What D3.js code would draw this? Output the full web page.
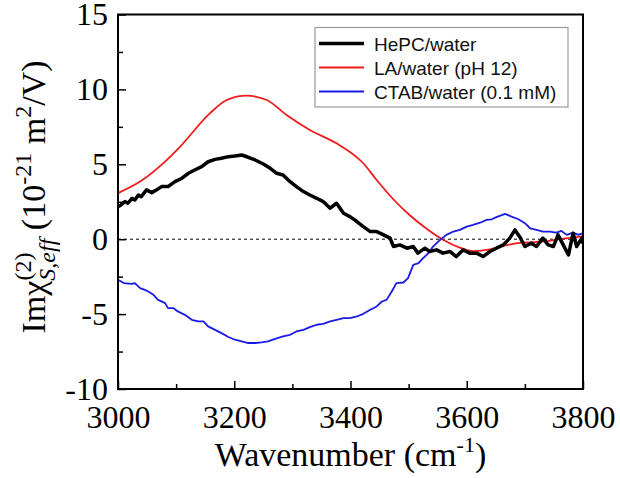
<!DOCTYPE html>
<html>
<head>
<meta charset="utf-8">
<script src="https://cdn.jsdelivr.net/npm/d3@7"></script>
<style>
  body { margin: 0; background: #fff; }
  svg { display: block; }
  .tick text { font-family: "Liberation Serif", "Times New Roman", serif; }
</style>
</head>
<body>
<svg class="myChart" width="620" height="478"></svg>
<script>
// HePC/water (noisy, thick black)
const hepcWn = [3000,3005,3012,3017,3024,3029,3035,3040,3049,3058,3066,3075,3086,3098,3110,3121,3132,3144,3155,3167,3178,3190,3201,3213,3224,3236,3250,3262,3273,3284,3296,3307,3319,3330,3342,3353,3365,3376,3388,3399,3411,3422,3434,3445,3457,3468,3474,3485,3497,3508,3516,3528,3536,3548,3559,3571,3582,3594,3605,3617,3628,3640,3651,3663,3674,3683,3691,3700,3711,3720,3731,3740,3749,3757,3766,3775,3783,3789,3798,3800];
const hepc = [2.17,2.29,2.51,2.40,2.73,2.62,2.95,2.84,3.29,3.11,3.29,3.51,3.51,3.84,4.07,4.40,4.62,4.84,5.17,5.33,5.40,5.51,5.55,5.62,5.47,5.29,5.02,4.73,4.40,4.29,3.84,3.51,3.18,2.95,2.73,2.51,2.07,2.40,1.73,1.51,1.18,0.84,0.51,0.51,0.29,0.07,-0.49,-0.38,-0.60,-0.49,-0.93,-0.60,-0.82,-0.71,-0.93,-0.82,-1.16,-0.71,-0.93,-0.93,-1.16,-0.82,-0.60,-0.38,0.07,0.62,0.17,-0.49,-0.27,-0.49,0.07,-0.38,-0.49,0.29,-0.38,-1.05,0.40,-0.49,0.07,-0.30];

// LA/water (pH 12) (smooth red)
const laWn = [3000,3040,3080,3105,3158,3187,3221,3256,3290,3330,3376,3422,3445,3474,3502,3531,3560,3588,3611,3634,3657,3680,3703,3731,3760,3800];
const la = [3.08,3.90,5.15,6.10,8.40,9.29,9.58,9.29,8.29,7.29,6.40,5.07,3.95,2.65,1.60,0.70,-0.05,-0.56,-0.80,-0.72,-0.50,-0.31,-0.22,-0.15,0.00,0.20];

// CTAB/water (0.1 mM) (blue)
const ctabWn = [3000,3010,3024,3029,3038,3046,3052,3061,3069,3081,3086,3095,3103,3115,3127,3138,3147,3155,3167,3178,3190,3201,3213,3224,3236,3247,3258,3269,3284,3296,3307,3319,3330,3342,3353,3365,3376,3388,3399,3411,3422,3434,3445,3454,3462,3471,3479,3491,3499,3508,3517,3525,3534,3542,3554,3565,3577,3588,3600,3611,3623,3634,3643,3651,3666,3677,3689,3700,3709,3720,3731,3743,3754,3763,3772,3783,3792,3800];
const ctab = [-2.71,-2.93,-2.98,-2.93,-3.27,-3.38,-3.49,-3.71,-4.05,-4.27,-4.60,-4.60,-4.82,-5.05,-5.38,-5.49,-5.49,-5.82,-6.05,-6.27,-6.53,-6.71,-6.82,-6.93,-6.93,-6.89,-6.82,-6.67,-6.49,-6.38,-6.16,-6.05,-5.87,-5.71,-5.65,-5.49,-5.38,-5.27,-5.27,-5.16,-4.98,-4.71,-4.49,-4.16,-4.05,-3.49,-2.93,-2.89,-2.60,-1.71,-1.60,-1.27,-0.93,-0.49,-0.05,0.29,0.51,0.62,0.84,0.95,1.10,1.29,1.33,1.47,1.69,1.51,1.33,1.07,0.73,0.62,0.51,0.51,0.44,0.55,0.29,0.44,0.29,0.40];

const xTicks = [3000,3200,3400,3600,3800];
const xMinor = [3100,3300,3500,3700];
const yTicks = [-10,-5,0,5,10,15];
const yMinor = [-7.5,-2.5,2.5,7.5,12.5];

const legendNames = ["HePC/water", "LA/water (pH 12)", "CTAB/water (0.1 mM)"];
const legendColors = ["#000000", "#ee1c1c", "#1a1ae6"];
const legendWidths = [3.5, 1.8, 1.8];

const serif = '"Liberation Serif", "Times New Roman", serif';

const margin = {top:14.5, right:37, bottom:89, left:118};
const width = 620, height = 478;
const innerWidth = width - margin.left - margin.right;
const innerHeight = height - margin.top - margin.bottom;

const svg = d3.select('svg.myChart');

const xScale = d3.scaleLinear().domain([3000, 3800]).range([0, innerWidth]);
const yScale = d3.scaleLinear().domain([-10, 15]).range([innerHeight, 0]);

const g = svg.append('g')
  .attr('transform', `translate(${margin.left},${margin.top})`);

g.append('clipPath').attr('id', 'plotClip')
  .append('rect').attr('width', innerWidth).attr('height', innerHeight);

// zero line
g.append('line')
  .attr('x1', 0).attr('x2', innerWidth)
  .attr('y1', yScale(0)).attr('y2', yScale(0))
  .attr('stroke', '#000').attr('stroke-width', 1)
  .attr('stroke-dasharray', '3,3');

const line = d3.line()
  .x(d => xScale(d[0]))
  .y(d => yScale(d[1]));

const series = [
  {wn: laWn, y: la, color: legendColors[1], w: legendWidths[1], curve: d3.curveMonotoneX},
  {wn: ctabWn, y: ctab, color: legendColors[2], w: legendWidths[2], curve: d3.curveLinear},
  {wn: hepcWn, y: hepc, color: legendColors[0], w: legendWidths[0], curve: d3.curveLinear}
];

const plot = g.append('g').attr('clip-path', 'url(#plotClip)');
series.forEach(s => {
  plot.append('path')
    .datum(d3.zip(s.wn, s.y))
    .attr('fill', 'none')
    .attr('stroke', s.color)
    .attr('stroke-width', s.w)
    .attr('stroke-linejoin', 'round')
    .attr('d', line.curve(s.curve));
});

// axes (ticks pointing inward)
const xAxis = g.append('g')
  .attr('transform', `translate(0,${innerHeight})`)
  .call(d3.axisBottom(xScale).tickValues(xTicks).tickSize(-8).tickPadding(16).tickFormat(d3.format('d')));
const xAxisMinor = g.append('g')
  .attr('transform', `translate(0,${innerHeight})`)
  .call(d3.axisBottom(xScale).tickValues(xMinor).tickSize(-5).tickFormat(''));
const yAxis = g.append('g')
  .call(d3.axisLeft(yScale).tickValues(yTicks).tickSize(-8).tickPadding(10).tickFormat(d => d));
const yAxisMinor = g.append('g')
  .call(d3.axisLeft(yScale).tickValues(yMinor).tickSize(-5).tickFormat(''));

[xAxis, xAxisMinor, yAxis, yAxisMinor].forEach(a => {
  a.select('.domain').remove();
  a.attr('font-family', serif).attr('font-size', 32);
  a.selectAll('line').attr('stroke', '#000').attr('stroke-width', 1.5);
  a.selectAll('text')
    .style('font-family', serif)
    .style('font-size', '32px')
    .attr('fill', '#000');
});

// frame
g.append('rect')
  .attr('width', innerWidth).attr('height', innerHeight)
  .attr('fill', 'none').attr('stroke', '#000').attr('stroke-width', 2);

// x title
const xt = svg.append('text')
  .attr('x', margin.left + innerWidth / 2).attr('y', 466)
  .attr('text-anchor', 'middle')
  .attr('font-family', serif)
  .attr('font-size', 34);
xt.append('tspan').text('Wavenumber (cm');
xt.append('tspan').attr('font-size', 22).attr('dy', -14).text('-1');
xt.append('tspan').attr('dy', 14).text(')');

// y title
const yt = svg.append('text')
  .attr('transform', `translate(45,197) rotate(-90)`)
  .attr('text-anchor', 'middle')
  .attr('font-family', serif)
  .attr('font-size', 34);
yt.append('tspan').text('Imχ');
yt.append('tspan').attr('font-size', 24).attr('dy', -14).text('(2)');
yt.append('tspan').attr('font-size', 24).attr('font-style', 'italic').attr('dx', -28).attr('dy', 24).text('S,eff');
yt.append('tspan').attr('dy', -10).text(' (10');
yt.append('tspan').attr('font-size', 24).attr('dy', -14).text('-21');
yt.append('tspan').attr('dy', 14).text(' m');
yt.append('tspan').attr('font-size', 24).attr('dy', -14).text('2');
yt.append('tspan').attr('dy', 14).text('/V)');

// legend
const legend = svg.append('g');
legend.append('rect')
  .attr('x', 315).attr('y', 27.5).attr('width', 253).attr('height', 79.5)
  .attr('fill', '#fff').attr('stroke', '#999').attr('stroke-width', 1.2);
const rows = legend.selectAll('g.row').data(legendNames).enter()
  .append('g').attr('class', 'row')
  .attr('transform', (d, i) => `translate(0,${43.5 + i * 24})`);
rows.append('line')
  .attr('x1', 319).attr('x2', 364)
  .attr('stroke', (d, i) => legendColors[i])
  .attr('stroke-width', (d, i) => legendWidths[i]);
rows.append('text')
  .attr('x', 374).attr('y', 7)
  .attr('font-family', '"Liberation Sans", Arial, sans-serif')
  .attr('font-size', 19)
  .attr('fill', '#111')
  .text(d => d);
</script>
</body>
</html>
